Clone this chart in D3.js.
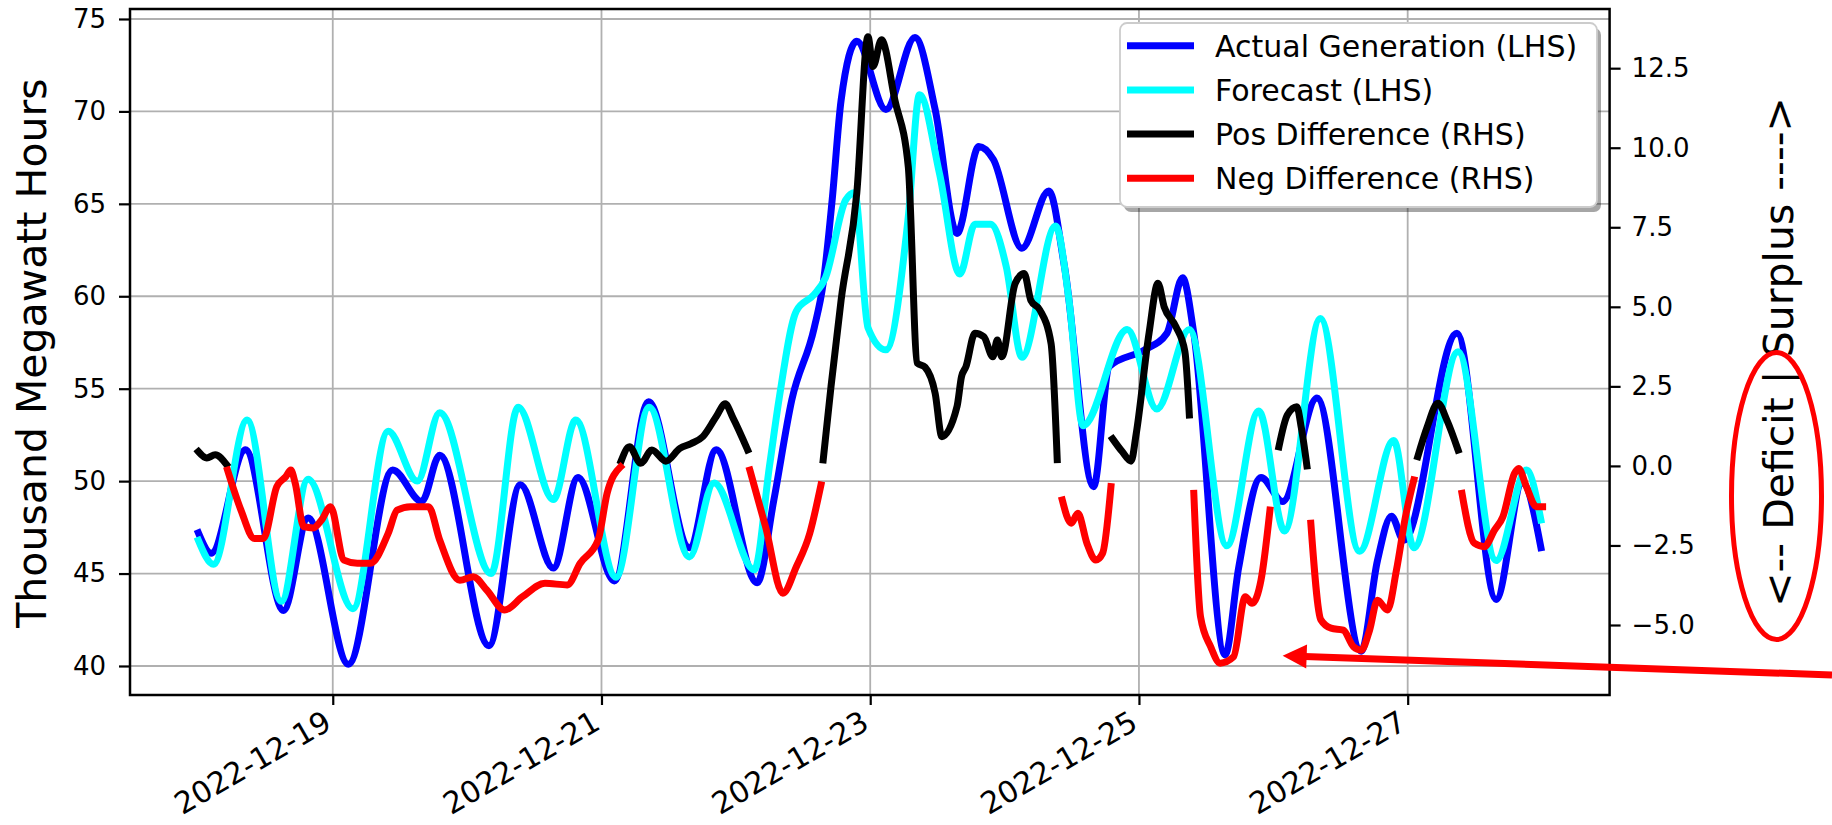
<!DOCTYPE html>
<html>
<head>
<meta charset="utf-8">
<script src="https://cdn.jsdelivr.net/npm/d3@7"></script>
<style>
  body { margin: 0; background: #ffffff; }
  svg text { font-family: "DejaVu Sans", sans-serif; fill: #000; }
</style>
</head>
<body>
<svg id="chart" width="1832" height="825"></svg>
<script>
// ---------------- DATA (hours after 2022-12-18 00:00, value) ----------------
const actual = [
  [0,47.2],[2.3,46.1],[8.4,51.7],[15.2,43.0],[19.6,48.0],[26.8,40.1],[34.7,50.6],[39.9,48.9],
  [43.1,51.4],[51.9,41.1],[57.5,49.8],[63.4,45.3],[67.8,50.2],[74.3,44.6],[80.4,54.3],[87.7,46.4],
  [92.5,51.7],[99.8,44.5],[102.8,49.0],[106,54.4],[110,58.3],[111.6,60.7],[113.2,65.2],[114.8,70.6],
  [117.6,73.8],[122.8,70.1],[128,74.0],[131.6,70.1],[135.5,63.4],[139.4,68.1],[142,67.4],[147.1,62.6],
  [151.9,65.7],[154.7,61.6],[159.9,49.7],[162.7,56.2],[169,57.1],[173,58.0],[175.8,61.0],[177.8,58.0],
  [183.4,40.6],[185.8,45.3],[189.8,50.2],[193.7,48.9],[199.8,54.5],[207.7,40.8],[210.6,45.7],[213.1,48.1],
  [215.3,46.8],[224.8,58.0],[231.8,43.6],[236.5,49.9],[239.8,46.4]
];
const forecast = [
  [0,46.8],[2.7,45.5],[8.7,53.3],[14.8,43.5],[19.6,50.1],[27.6,43.1],[33.9,52.7],[39.1,50.0],
  [43.1,53.7],[52.3,45.0],[57.1,54.0],[63.4,49.0],[67.4,53.3],[74.6,44.8],[80.5,54.0],[87.7,45.9],
  [92.1,49.9],[99.3,45.2],[102,50.8],[103.7,54.4],[106.8,59.2],[110,60.1],[112,61.0],[115.6,65.2],
  [117.2,65.6],[119.6,58.3],[122.8,57.1],[126.8,64.3],[128.8,70.9],[132.4,66.6],[136,61.2],[138.7,63.9],
  [141.5,63.9],[144.3,61.6],[147.1,56.7],[153.1,63.8],[155.5,59.8],[158,53.0],[165.9,58.2],[171.2,53.9],
  [177,58.2],[183.7,46.5],[189.4,53.8],[194,47.3],[200.4,58.8],[207.4,46.2],[213.5,52.2],[217.1,46.4],
  [225,57.0],[231.8,45.7],[237.2,50.6],[239.8,47.9]
];
const posDiff = [
  [[0,0.45],[1.5,0.25],[3,0.35],[5,0.05]],
  [[75.5,0.15],[77,0.6],[79,0.08],[81,0.5],[83.5,0.15],[86,0.55],[88,0.7],[90.1,0.92],[92.5,1.55],
   [94.1,1.95],[95.5,1.5],[98.1,0.5]],
  [[111.6,0.19],[113,2.5],[114.8,5.21],[117.6,8.57],[119.6,13.49],[120.5,12.55],[122,13.39],[124.4,11.5],
   [126.8,9.4],[128.4,3.23],[129.8,3.1],[131.6,2.28],[132.8,0.92],[135.5,1.86],[136.3,2.8],[137.1,3.12],
   [138.7,4.17],[140.3,4.06],[141.9,3.43],[142.7,3.96],[143.5,3.43],[145.9,5.74],[147.5,6.05],[148.7,5.2],
   [150.3,4.9],[152.3,3.85],[153.4,0.2]],
  [[163.3,0.85],[165,0.45],[166.6,0.15],[167.5,1.0],[169.8,4.17],[171.4,5.74],[172.5,5.0],[174.6,4.38],
   [176.2,3.6],[177,1.6]],
  [[193,0.6],[194.5,1.6],[196.2,1.86],[197,1.2],[198,0.0]],
  [[217.8,0.29],[219.5,1.23],[221.4,1.97],[223,1.44],[225,0.5]]
];
const negDiff = [
  [[5.2,-0.13],[7.6,-1.39],[10,-2.28],[11.6,-2.28],[14,-0.65],[15.6,-0.34],[16.5,-0.13],[17.3,-0.55],
   [18.8,-1.91],[20.5,-1.95],[22,-1.7],[23.6,-1.28],[26,-2.96],[28.4,-3.06],[30.7,-3.06],[33.9,-2.12],
   [35.5,-1.39],[37.9,-1.28],[41.1,-1.28],[43.1,-2.33],[46.7,-3.59],[49.1,-3.48],[51.5,-3.9],[54.7,-4.53],
   [57.9,-4.11],[61.9,-3.69],[65.9,-3.74],[68.2,-3.06],[71.4,-2.33],[73,-0.86],[75.4,-0.03]],
  [[98.5,-0.13],[101.3,-1.91],[104.4,-4.0],[106.8,-3.17],[109.2,-2.12],[111.2,-0.6]],
  [[154.3,-1.07],[155.9,-1.8],[157.1,-1.49],[158.7,-2.43],[160.3,-2.96],[161.5,-2.75],[163,-0.65]],
  [[177.8,-0.86],[179,-4.74],[180.8,-5.68],[182.5,-6.2],[184.9,-6.0],[187,-4.11],[188.2,-4.32],
   [189.8,-3.59],[191.4,-1.39]],
  [[198.7,-1.8],[200.5,-4.84],[202.3,-5.1],[204.5,-5.16],[206.3,-5.68],[207.7,-5.79],[209.2,-5.16],
   [210.6,-4.22],[212.4,-4.53],[214,-3.27],[215.6,-1.6],[217.1,-0.44]],
  [[225.7,-0.86],[227.9,-2.43],[229.7,-2.54],[231.5,-2.02],[233,-1.6],[235.1,-0.23],[235.8,-0.08],
   [237.2,-0.65],[239,-1.28],[240.1,-1.28]]
];
const xTickLabels = ["2022-12-19","2022-12-21","2022-12-23","2022-12-25","2022-12-27"];
const leftTicks = [40,45,50,55,60,65,70,75];
const rightTicks = [-5,-2.5,0,2.5,5,7.5,10,12.5];
const legendLabels = ["Actual Generation (LHS)","Forecast (LHS)","Pos Difference (RHS)","Neg Difference (RHS)"];
const leftLabel = "Thousand Megawatt Hours";
const rightLabel = "<-- Deficit | Surplus ---->";

// ---------------- LAYOUT ----------------
const svg = d3.select("#chart");
const L = 130, R = 1609.6, T = 9, B = 695;
const colors = {actual:"#0000ff", forecast:"#00ffff", pos:"#000000", neg:"#ff0000"};
const t0 = Date.UTC(2022,11,18);
const toDate = h => new Date(t0 + h*3600e3);

const x = d3.scaleUtc()
  .domain([new Date(Date.UTC(2022,11,17,11,47)), new Date(Date.UTC(2022,11,28,12,4))])
  .range([L, R]);
const yL = d3.scaleLinear().domain([38.43, 75.54]).range([B, T]);
const yR = d3.scaleLinear().domain([-7.20, 14.36]).range([B, T]);
const xTicks = xTickLabels.map(s => new Date(s + "T00:00:00Z"));

// grid
const grid = svg.append("g");
grid.selectAll("line.v").data(xTicks).enter().append("line")
  .attr("x1", d => x(d)).attr("x2", d => x(d)).attr("y1", T).attr("y2", B)
  .attr("stroke", "#b0b0b0").attr("stroke-width", 1.8);
grid.selectAll("line.h").data(leftTicks).enter().append("line")
  .attr("x1", L).attr("x2", R).attr("y1", d => yL(d)).attr("y2", d => yL(d))
  .attr("stroke", "#b0b0b0").attr("stroke-width", 1.8);

// lines
svg.append("clipPath").attr("id","clip").append("rect")
  .attr("x", L).attr("y", T).attr("width", R-L).attr("height", B-T);
const plot = svg.append("g").attr("clip-path","url(#clip)");
const lineL = d3.line().x(d => x(toDate(d[0]))).y(d => yL(d[1])).curve(d3.curveMonotoneX);
const lineR = d3.line().x(d => x(toDate(d[0]))).y(d => yR(d[1])).curve(d3.curveMonotoneX);
function drawLine(data, gen, color) {
  plot.append("path").datum(data).attr("d", gen).attr("fill","none")
    .attr("stroke", color).attr("stroke-width", 7)
    .attr("stroke-linejoin","round").attr("stroke-linecap","square");
}
drawLine(actual, lineL, colors.actual);
drawLine(forecast, lineL, colors.forecast);
posDiff.forEach(seg => drawLine(seg, lineR, colors.pos));
negDiff.forEach(seg => drawLine(seg, lineR, colors.neg));

// axes
const tickFont = 26;
const axL = svg.append("g").attr("transform", `translate(${L},0)`)
  .call(d3.axisLeft(yL).tickValues(leftTicks).tickSize(11).tickPadding(13).tickFormat(d3.format("d")));
const fmtR = v => (v < 0 ? "\u2212" : "") + Math.abs(v).toFixed(1);
const axR = svg.append("g").attr("transform", `translate(${R},0)`)
  .call(d3.axisRight(yR).tickValues(rightTicks).tickSize(11).tickPadding(11).tickFormat(fmtR));
const axB = svg.append("g").attr("transform", `translate(0,${B})`)
  .call(d3.axisBottom(x).tickValues(xTicks).tickSize(10).tickFormat((d,i) => xTickLabels[i]));
[axL, axR, axB].forEach(a => {
  a.select(".domain").remove();
  a.selectAll(".tick line").attr("stroke","#000").attr("stroke-width",2.2);
  a.selectAll("text").attr("font-family","DejaVu Sans").attr("font-size", tickFont).attr("fill","#000");
});
axB.selectAll("text")
  .attr("font-size", 30)
  .attr("text-anchor","end")
  .attr("dy", null)
  .attr("y", null)
  .attr("transform", "translate(0,33) rotate(-30)");

// frame
svg.append("rect").attr("x", L).attr("y", T).attr("width", R-L).attr("height", B-T)
  .attr("fill","none").attr("stroke","#000").attr("stroke-width",2.5);

// axis labels
svg.append("text").text(leftLabel)
  .attr("transform", `translate(46,353) rotate(-90)`)
  .attr("text-anchor","middle").attr("font-size", 41);
svg.append("text").text(rightLabel)
  .attr("transform", `translate(1793,352) rotate(-90)`)
  .attr("text-anchor","middle").attr("font-size", 41);

// legend
const lg = svg.append("g");
const lgX = 1120, lgY = 23, lgW = 477, lgH = 184;
lg.append("rect").attr("x", lgX+4).attr("y", lgY+5).attr("width", lgW).attr("height", lgH)
  .attr("rx", 7).attr("fill", "#000").attr("opacity", 0.35);
lg.append("rect").attr("x", lgX).attr("y", lgY).attr("width", lgW).attr("height", lgH)
  .attr("rx", 7).attr("fill", "#fff").attr("stroke", "#cccccc").attr("stroke-width", 1.8);
const lgColors = [colors.actual, colors.forecast, colors.pos, colors.neg];
legendLabels.forEach((lab, i) => {
  const cy = 45.7 + i * 44.2;
  lg.append("line").attr("x1", 1127).attr("x2", 1194).attr("y1", cy).attr("y2", cy)
    .attr("stroke", lgColors[i]).attr("stroke-width", 7);
  lg.append("text").text(lab).attr("x", 1215).attr("y", cy).attr("dy","0.36em")
    .attr("font-size", 30);
});

// red annotations
const ann = svg.append("g");
ann.append("ellipse").attr("cx", 1776.5).attr("cy", 496).attr("rx", 45).attr("ry", 143.5)
  .attr("fill","none").attr("stroke","#ff0000").attr("stroke-width",5);
const tip = [x(new Date(Date.UTC(2022,11,26,1,40))), yL(40.56)];
const tail = [1832, 675];
const ang = Math.atan2(tail[1]-tip[1], tail[0]-tip[0]);
const hl = 24, hw = 12;
const base = [tip[0] + hl*Math.cos(ang), tip[1] + hl*Math.sin(ang)];
ann.append("line").attr("x1", base[0]-2*Math.cos(ang)).attr("y1", base[1]-2*Math.sin(ang))
  .attr("x2", tail[0]).attr("y2", tail[1]).attr("stroke","#ff0000").attr("stroke-width",7);
ann.append("polygon").attr("points", [
  tip,
  [base[0] - hw*Math.sin(ang), base[1] + hw*Math.cos(ang)],
  [base[0] + hw*Math.sin(ang), base[1] - hw*Math.cos(ang)]
].map(p => p.join(",")).join(" ")).attr("fill","#ff0000");
</script>
</body>
</html>
